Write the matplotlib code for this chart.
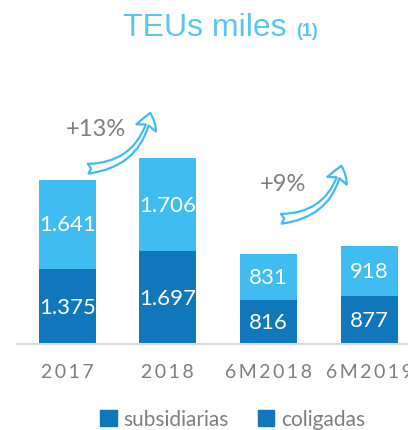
import matplotlib.pyplot as plt
from matplotlib.patches import FancyArrowPatch, Patch

categories = ["2017", "2018", "6M2018", "6M2019"]
coligadas = [1375, 1697, 816, 877]
subsidiarias = [1641, 1706, 831, 918]
growth_labels = ["+13%", "+9%"]

dark = "#1077BC"
light = "#40BCF0"
grey = "#7F7F7F"

plt.rcParams["font.family"] = ["Lato", "DejaVu Sans"]

fig = plt.figure(figsize=(4.08, 4.31), dpi=100)
ax = fig.add_axes([0.0417, 0.1995, 0.986, 0.506])

x = list(range(len(categories)))
b1 = ax.bar(x, coligadas, width=0.567, color=dark)
b2 = ax.bar(x, subsidiarias, width=0.567, bottom=coligadas, color=light)

fmt = lambda v: f"{v:,}".replace(",", ".")
ax.bar_label(b1, labels=[fmt(v) for v in coligadas], label_type="center",
             color="white", fontsize=16)
ax.bar_label(b2, labels=[fmt(v) for v in subsidiarias], label_type="center",
             color="white", fontsize=16)

ax.set_xlim(-0.5, 3.5)
ax.set_ylim(0, 4000)
ax.set_xticks(x)
ax.set_xticklabels(["\u2009".join(c) for c in categories], color=grey, fontsize=14)
ax.tick_params(axis="x", length=0, pad=14)
ax.set_yticks([])
for s in ["top", "right", "left"]:
    ax.spines[s].set_visible(False)
ax.spines["bottom"].set_color("#D9D9D9")
ax.spines["bottom"].set_linewidth(1.5)

# growth arrows
arrows = [((0.18, 3211), (0.83, 4290)), ((2.10, 2294), (2.73, 3320))]
text_pos = [(0.28, 3945), (2.14, 2950)]
for (pa, pb), tp, lab in zip(arrows, text_pos, growth_labels):
    arr = FancyArrowPatch(pa, pb, arrowstyle="fancy,head_length=0.45,head_width=0.6,tail_width=0.28",
                          connectionstyle="arc3,rad=0.4", mutation_scale=25,
                          fc="white", ec=light, lw=1.6, clip_on=False)
    ax.add_patch(arr)
    ax.text(tp[0], tp[1], lab, ha="center", va="center", color=grey,
            fontsize=17, clip_on=False)

# title
fig.text(0.703, 1 - 36 / 431, "TEUs miles", ha="right", va="baseline",
         color="#5BC5F2", fontsize=23, family="Liberation Sans")
fig.text(0.725, 1 - 36 / 431, "(1)", ha="left", va="baseline",
         color="#5BC5F2", fontsize=13, fontweight="bold", family="Liberation Sans")

handles = [Patch(color=dark), Patch(color=dark)]
fig.legend(handles, ["subsidiarias", "coligadas"], loc="center",
           bbox_to_anchor=(0.57, 1 - 420 / 431), ncol=2, frameon=False,
           fontsize=15, labelcolor=grey, handlelength=0.8, handleheight=0.8,
           handletextpad=0.3, columnspacing=1.4, borderpad=0.2)

fig.savefig("out.png", dpi=100)
